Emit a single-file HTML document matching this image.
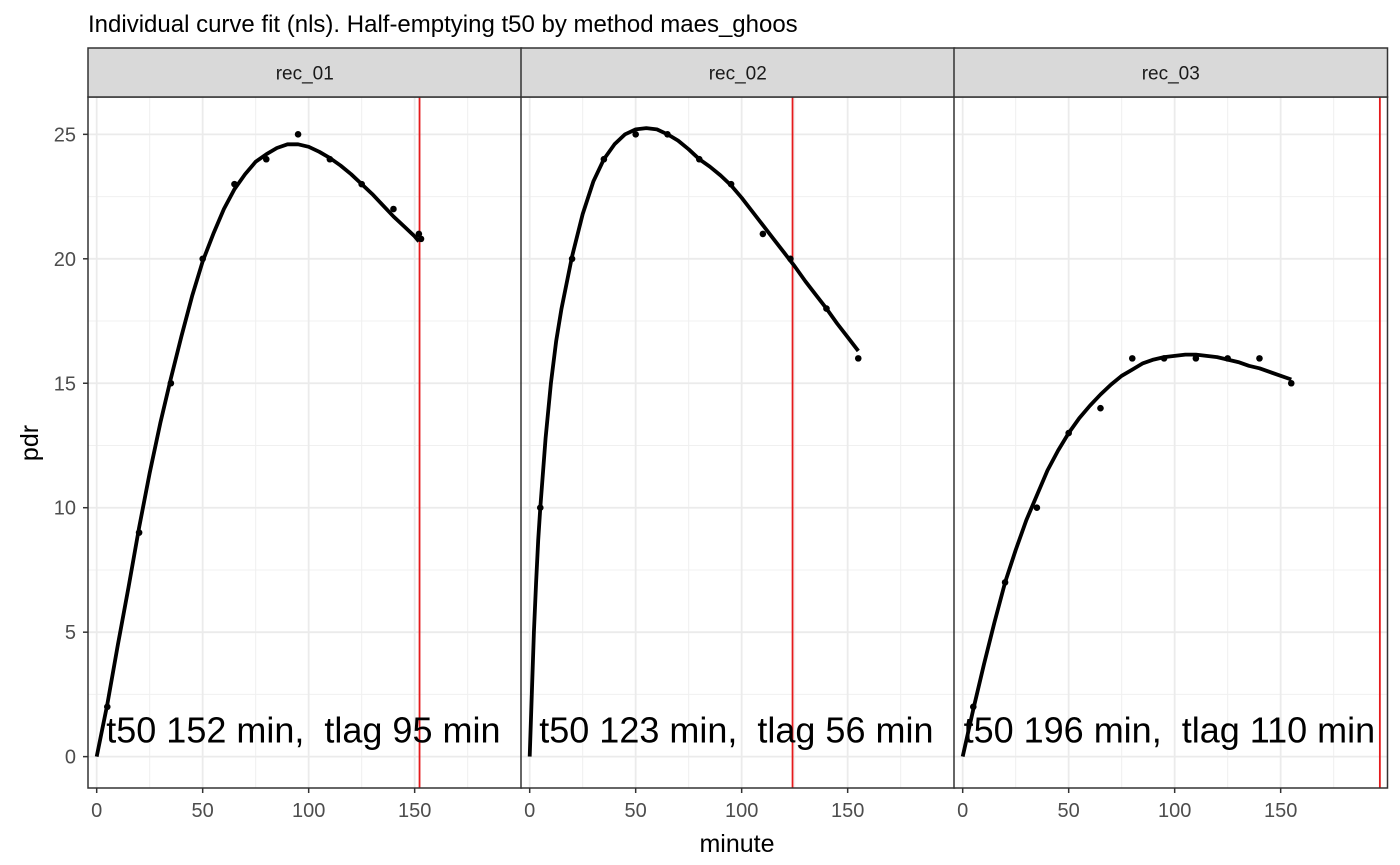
<!DOCTYPE html>
<html><head><meta charset="utf-8"><style>
html,body{margin:0;padding:0;background:#fff;}
svg{display:block;font-family:"Liberation Sans",Arial,sans-serif;}
</style></head><body>
<svg id="chart" width="1400" height="865" viewBox="0 0 1400 865" xmlns="http://www.w3.org/2000/svg">
<text x="88" y="32" font-size="24" fill="#000">Individual curve fit (nls). Half-emptying t50 by method maes_ghoos</text>
<text x="737" y="852" font-size="25" text-anchor="middle" fill="#000">minute</text>
<text transform="translate(38,443) rotate(-90)" font-size="25" text-anchor="middle" fill="#000">pdr</text>
<g id="panels"></g>
</svg>
<script>
const panelNames = ["rec_01","rec_02","rec_03"];
const t50Values = [152.3, 124, 196.8];
const annotations = ["t50 152 min,  tlag 95 min","t50 123 min,  tlag 56 min","t50 196 min,  tlag 110 min"];
const xTicks = [0,50,100,150];
const yTicks = [0,5,10,15,20,25];
const pointsT1 = [5,20,35,50,65,80,95,110,125,140,152,153];
const pointsY1 = [2,9,15,20,23,24,25,24,23,22,21,20.8];
const pointsT2 = [5,20,35,50,65,80,95,110,123,140,155];
const pointsY2 = [10,20,24,25,25,24,23,21,20,18,16];
const pointsT3 = [5,20,35,50,65,80,95,110,125,140,155];
const pointsY3 = [2,7,10,13,14,16,16,16,16,16,15];
const curveT1 = [0,5,10,15,20,25,30,35,40,45,50,55,60,65,70,75,80,85,90,95,100,105,110,115,120,125,130,135,140,145,150,152];
const curveY1 = [0,2.1,4.5,6.8,9.2,11.4,13.4,15.2,16.9,18.5,19.9,21.0,22.0,22.8,23.4,23.9,24.2,24.45,24.6,24.6,24.5,24.3,24.05,23.75,23.4,23.0,22.6,22.15,21.7,21.3,20.9,20.7];
const curveT2 = [0,1,2,3,4,5,7.5,10,12.5,15,20,25,30,35,40,45,50,55,60,65,70,75,80,85,90,95,100,105,110,115,120,125,130,135,140,145,150,155];
const curveY2 = [0,2.5,5,7,8.7,10,12.8,15,16.7,18,20.1,21.8,23.1,24.0,24.6,25.0,25.2,25.25,25.2,25.0,24.75,24.4,24.0,23.7,23.35,22.95,22.45,21.9,21.35,20.8,20.25,19.7,19.1,18.55,18.0,17.4,16.85,16.3];
const curveT3 = [0,5,10,15,20,25,30,35,40,45,50,55,60,65,70,75,80,85,90,95,100,105,110,115,120,125,130,135,140,145,150,155];
const curveY3 = [0,1.9,3.7,5.4,7.0,8.3,9.5,10.5,11.5,12.3,13.0,13.6,14.1,14.55,14.95,15.3,15.55,15.8,15.95,16.05,16.1,16.15,16.15,16.1,16.05,15.95,15.85,15.7,15.6,15.45,15.3,15.15];

const allPT=[pointsT1,pointsT2,pointsT3], allPY=[pointsY1,pointsY2,pointsY3];
const allCT=[curveT1,curveT2,curveT3], allCY=[curveY1,curveY2,curveY3];
const NS="http://www.w3.org/2000/svg";
const panelLefts=[88,521,954], panelW=433.5;
const plotTop=97, plotBottom=788, stripTop=48;
const xmin=-4.1, xmax=200.4, ymin=-1.26, ymax=26.5;
const yS=v=>plotBottom-(v-ymin)/(ymax-ymin)*(plotBottom-plotTop);
function mk(tag,attrs,parent){const e=document.createElementNS(NS,tag);for(const k in attrs)e.setAttribute(k,attrs[k]);parent.appendChild(e);return e;}
const root=document.getElementById('panels');
panelNames.forEach((name,i)=>{
  const L=panelLefts[i];
  const xS=v=>L+(v-xmin)/(xmax-xmin)*panelW;
  const g=mk('g',{},root);
  
  
  mk('rect',{x:L,y:plotTop,width:panelW,height:plotBottom-plotTop,fill:'#fff'},g);
  for(let v=25;v<xmax;v+=50){mk('line',{x1:xS(v),x2:xS(v),y1:plotTop,y2:plotBottom,stroke:'#f0f0f0','stroke-width':1},g);}
  for(let v=2.5;v<ymax;v+=5){mk('line',{x1:L,x2:L+panelW,y1:yS(v),y2:yS(v),stroke:'#f0f0f0','stroke-width':1},g);}
  xTicks.forEach(v=>{const l=mk('line',{x1:xS(v),x2:xS(v),y1:plotTop,y2:plotBottom,stroke:'#ebebeb','stroke-width':1.8},g);
    
    
    mk('line',{x1:xS(v),x2:xS(v),y1:plotBottom,y2:plotBottom+5,stroke:'#333','stroke-width':1.5},g);
    const t=mk('text',{x:xS(v),y:plotBottom+29,'font-size':20,'text-anchor':'middle',fill:'#4d4d4d'},g);t.textContent=v;
    
    });
  yTicks.forEach(v=>{mk('line',{x1:L,x2:L+panelW,y1:yS(v),y2:yS(v),stroke:'#ebebeb','stroke-width':1.8},g);
    if(i===0){mk('line',{x1:L-5,x2:L,y1:yS(v),y2:yS(v),stroke:'#333','stroke-width':1.5},g);
    const t=mk('text',{x:L-12,y:yS(v)+7,'font-size':20,'text-anchor':'end',fill:'#4d4d4d'},g);t.textContent=v;
    
    }});
  const rl=mk('line',{x1:xS(t50Values[i]),x2:xS(t50Values[i]),y1:plotTop,y2:plotBottom,stroke:'#e41a1c','stroke-width':1.8},g);
  
  
  const d=allCT[i].map((t,j)=>(j?'L':'M')+xS(t).toFixed(1)+','+yS(allCY[i][j]).toFixed(1)).join(' ');
  const c=mk('path',{d:d,fill:'none',stroke:'#000','stroke-width':3.8,'stroke-linejoin':'round'},g);
  
  
  allPT[i].forEach((t,j)=>{const p=mk('circle',{cx:xS(t),cy:yS(allPY[i][j]),r:3.3,fill:'#000'},g);
    
    });
  const a=mk('text',{x:xS(97.5),y:yS(1.1)+13,'font-size':36,'text-anchor':'middle',fill:'#000'},g);
  a.style.whiteSpace='pre';
  a.textContent=annotations[i];
  
  
  mk('rect',{x:L,y:plotTop,width:panelW,height:plotBottom-plotTop,fill:'none',stroke:'#333','stroke-width':1.5},g);
  const s=mk('rect',{x:L,y:stripTop,width:panelW,height:plotTop-stripTop,fill:'#d9d9d9',stroke:'#333','stroke-width':1.5},g);
  
  
  const st=mk('text',{x:L+panelW/2,y:(stripTop+plotTop)/2+7,'font-size':19,'text-anchor':'middle',fill:'#1a1a1a'},g);st.textContent=name;
  
  
});
</script>
</body></html>
